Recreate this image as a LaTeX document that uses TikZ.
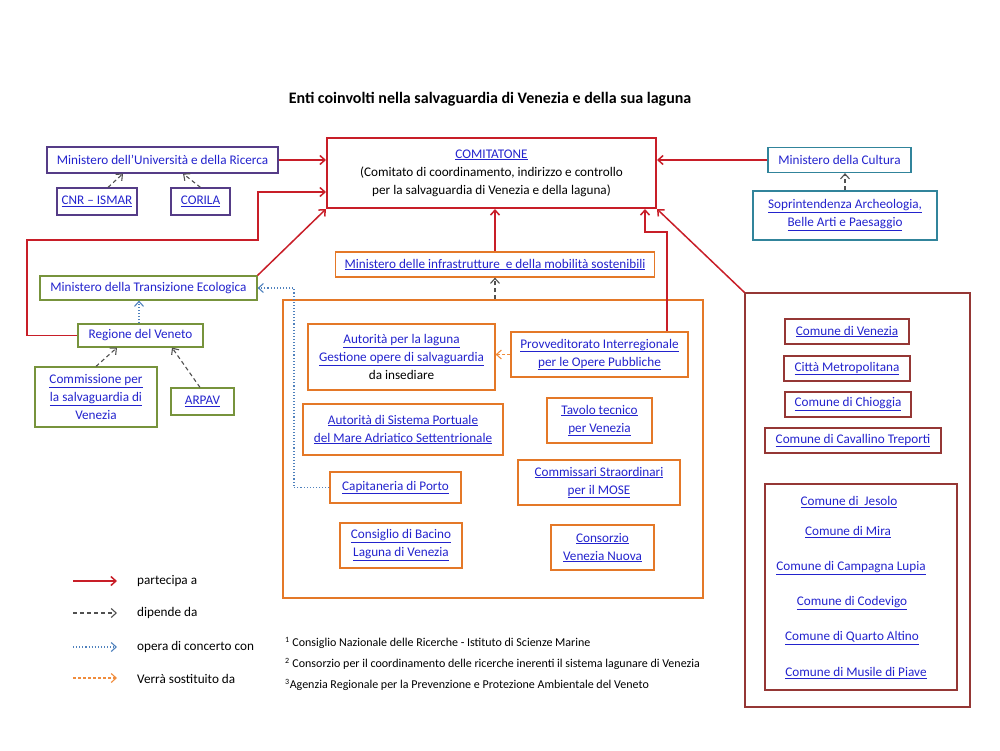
\documentclass[tikz,border=0pt]{standalone}
\usepackage{fontspec}
\setmainfont{Carlito}
\usetikzlibrary{arrows.meta}
\definecolor{lnkblue}{RGB}{35,35,205}
\definecolor{partred}{RGB}{200,30,40}
\definecolor{purp}{RGB}{85,60,135}
\definecolor{tealb}{RGB}{49,132,155}
\definecolor{olive}{RGB}{119,147,60}
\definecolor{orng}{RGB}{228,120,40}
\definecolor{brn}{RGB}{149,55,53}
\definecolor{dipgray}{RGB}{80,80,80}
\definecolor{concblue}{RGB}{79,129,189}
\definecolor{sostor}{RGB}{240,140,60}
\newcommand{\lnk}[1]{\underline{#1}}
\begin{document}
\begin{tikzpicture}[x=1pt,y=-1pt,
    >={Straight Barb[length=5pt,width=9pt]},
    box/.style={draw,line width=1.2pt,text=lnkblue,align=center,inner sep=0pt,
      font=\fontsize{13.2}{18}\selectfont},
    sz/.style 2 args={minimum width=#1pt,minimum height=#2pt},
    txt/.style={text=lnkblue,inner sep=0pt,font=\fontsize{13.2}{15}\selectfont},
    part/.style={->,draw=partred,line width=1.5pt},
    dip/.style={->,draw=dipgray,dash pattern=on 4pt off 3pt,line width=1.1pt},
    conc/.style={->,draw=concblue,dotted,line width=1.1pt},
    sost/.style={->,draw=sostor,dash pattern=on 3pt off 2pt,line width=1.1pt}]
  \useasboundingbox (0,0) rectangle (1000,750);
  \draw
    (490,99) node[font=\fontsize{16}{18}\selectfont\bfseries] (title)
      {Enti coinvolti nella salvaguardia di Venezia e della sua laguna}
    (162.5,160) node[box,draw=purp,sz={231}{26}] (mur)
      {Ministero dell'Università e della Ricerca}
    (97,201.5) node[box,draw=purp,sz={80}{27}] (cnr) {\lnk{CNR -- ISMAR}}
    (200.5,201.5) node[box,draw=purp,sz={59}{27}] (corila) {\lnk{CORILA}}
    (491.5,173) node[box,draw=partred,line width=2pt,text=black,sz={329}{70}] (comit)
      {\textcolor{lnkblue}{\lnk{COMITATONE}}\\(Comitato di coordinamento, indirizzo e controllo\\
       per la salvaguardia di Venezia e della laguna)}
    (839.5,160) node[box,draw=tealb,sz={143}{25}] (mc) {Ministero della Cultura}
    (845,215.5) node[box,draw=tealb,sz={184}{49}] (sab)
      {\lnk{Soprintendenza Archeologia,}\\\lnk{Belle Arti e Paesaggio}}
    (148.5,288) node[box,draw=olive,sz={217}{24}] (mte) {Ministero della Transizione Ecologica}
    (140.5,335.5) node[box,draw=olive,sz={125}{23}] (rv) {Regione del Veneto}
    (96,397) node[box,draw=olive,sz={122}{60}] (comm)
      {\lnk{Commissione per}\\\lnk{la salvaguardia di}\\Venezia}
    (202.5,401.5) node[box,draw=olive,sz={63}{27}] (arpav) {\lnk{ARPAV}}
    (495,264.5) node[box,draw=orng,sz={319}{25}] (mims)
      {\lnk{Ministero delle infrastrutture\ \ e della mobilità sostenibili}}
    (493,449) node[box,draw=orng,sz={420}{298}] (enti) {}
    (401.5,357) node[box,draw=orng,sz={187}{66}] (al)
      {\lnk{Autorità per la laguna}\\\lnk{Gestione opere di salvaguardia}\\\textcolor{black}{da insediare}}
    (599.5,354.5) node[box,draw=orng,fill=white,sz={177}{45}] (prov)
      {\lnk{Provveditorato Interregionale}\\\lnk{per le Opere Pubbliche}}
    (403,429.5) node[box,draw=orng,sz={200}{51}] (asp)
      {\lnk{Autorità di Sistema Portuale}\\\lnk{del Mare Adriatico Settentrionale}}
    (599.5,420.5) node[box,draw=orng,sz={105}{45}] (tt) {\lnk{Tavolo tecnico}\\\lnk{per Venezia}}
    (395.5,487.5) node[box,draw=orng,sz={131}{31}] (cp) {\lnk{Capitaneria di Porto}}
    (599,482.5) node[box,draw=orng,sz={162}{45}] (cs)
      {\lnk{Commissari Straordinari}\\\lnk{per il MOSE}}
    (401,545.5) node[box,draw=orng,sz={122}{45}] (cb)
      {\lnk{Consiglio di Bacino}\\\lnk{Laguna di Venezia}}
    (602.5,547.5) node[box,draw=orng,sz={103}{45}] (cvn) {\lnk{Consorzio}\\\lnk{Venezia Nuova}}
    (857.5,500) node[box,draw=brn,sz={225}{414}] (comuni) {}
    (847,331.5) node[box,draw=brn,sz={124}{25}] (cve) {\lnk{Comune di Venezia}}
    (847,368.5) node[box,draw=brn,sz={126}{25}] (cm) {\lnk{Città Metropolitana}}
    (848,404.5) node[box,draw=brn,sz={126}{25}] (cch) {\lnk{Comune di Chioggia}}
    (853,440.5) node[box,draw=brn,sz={176}{25}] (cct) {\lnk{Comune di Cavallino Treporti}}
    (861,587) node[box,draw=brn,sz={192}{206}] (altri) {}
    (849,502) node[txt] (jes) {\lnk{Comune di\ \ Jesolo}}
    (848,532) node[txt] (mira) {\lnk{Comune di Mira}}
    (851,568) node[txt] (camp) {\lnk{Comune di Campagna Lupia}}
    (852,603) node[txt] (cod) {\lnk{Comune di Codevigo}}
    (852,638) node[txt] (qa) {\lnk{Comune di Quarto Altino}}
    (856,673) node[txt] (mus) {\lnk{Comune di Musile di Piave}};
  % legenda
  \draw
    (73,581) coordinate (l1a) (117,581) coordinate (l1b)
    (73,613) coordinate (l2a) (117,613) coordinate (l2b)
    (73,647) coordinate (l3a) (117,647) coordinate (l3b)
    (73,678) coordinate (l4a) (117,678) coordinate (l4b)
    (137,581) node[txt,text=black,anchor=west] (leg1) {partecipa a}
    (137,613) node[txt,text=black,anchor=west] (leg2) {dipende da}
    (137,647) node[txt,text=black,anchor=west] (leg3) {opera di concerto con}
    (137,679) node[txt,text=black,anchor=west] (leg4) {Verrà sostituito da};
  \draw[font=\fontsize{12}{14}\selectfont,inner sep=0pt]
    (285,643) node[anchor=west] (nota1)
      {\textsuperscript{1} Consiglio Nazionale delle Ricerche - Istituto di Scienze Marine}
    (285,664) node[anchor=west] (nota2)
      {\textsuperscript{2} Consorzio per il coordinamento delle ricerche inerenti il sistema lagunare di Venezia}
    (285,685) node[anchor=west] (nota3)
      {\textsuperscript{3}Agenzia Regionale per la Prevenzione e Protezione Ambientale del Veneto};
  \begin{scope}[part]
    \draw (mur.east) -- (mur.east -| comit.west);
    \draw (mc.west) -- (mc.west -| comit.east);
    \draw (rv.west) -| (27,240) -| (258,192) -- ([yshift=-19pt]comit.west);
    \draw (mte.north east) -- (comit.south west);
    \draw (mims.north) -- (mims.north |- comit.south);
    \draw (prov.north -| 667,0) |- (645,232) -- (645,232 |- comit.south);
    \draw (comuni.north west) -- (comit.south east);
    \draw (l1a) -- (l1b);
  \end{scope}
  \begin{scope}[dip]
    \draw ([xshift=11pt]cnr.north) -- ([xshift=-39.5pt]mur.south);
    \draw (corila.north) -- ([xshift=20.5pt]mur.south);
    \draw (sab.north) -- (sab.north |- mc.south);
    \draw (mims.south |- enti.north) -- (mims.south);
    \draw (comm.north) -- ([xshift=-23.5pt]rv.south);
    \draw ([xshift=-2.5pt]arpav.north) -- ([xshift=31.5pt]rv.south);
    \draw (l2a) -- (l2b);
  \end{scope}
  \begin{scope}[conc]
    \draw (rv.north -| 139,0) -- (mte.south -| 139,0);
    \draw (cp.west) -| (294,288) -- (mte.east);
    \draw (l3a) -- (l3b);
  \end{scope}
  \begin{scope}[sost]
    \draw (prov.west) -- (prov.west -| al.east);
    \draw (l4a) -- (l4b);
  \end{scope}
\end{tikzpicture}
\end{document}
